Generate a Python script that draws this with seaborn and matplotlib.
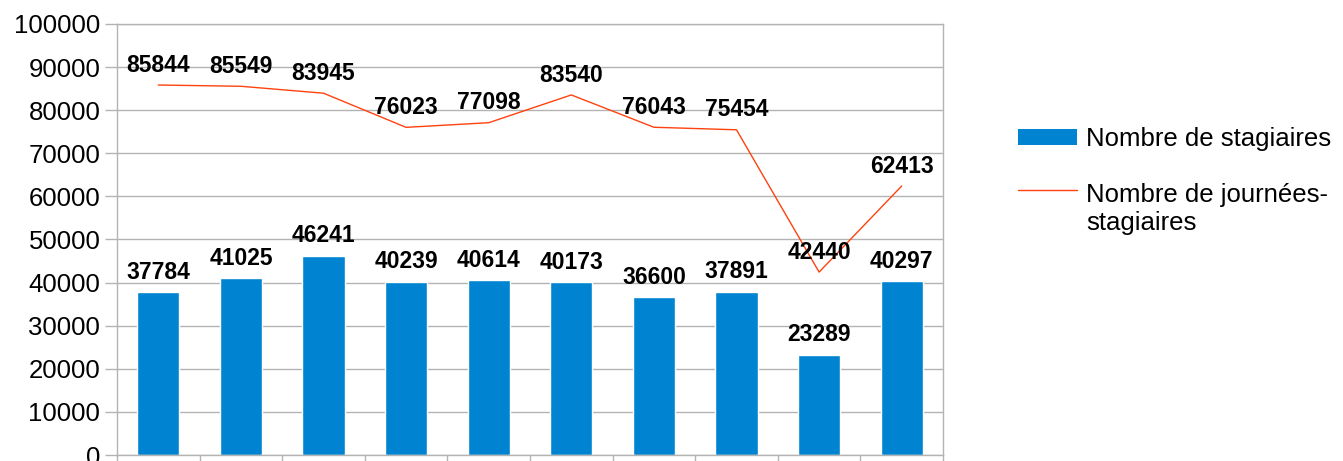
import matplotlib
matplotlib.use("Agg")
import matplotlib.pyplot as plt
from matplotlib.patches import Patch
from matplotlib.lines import Line2D
from matplotlib.legend_handler import HandlerLine2D
import seaborn as sns
import pandas as pd

categories = ["1", "2", "3", "4", "5", "6", "7", "8", "9", "10"]
stagiaires = [37784, 41025, 46241, 40239, 40614, 40173, 36600, 37891, 23289, 40297]
journees = [85844, 85549, 83945, 76023, 77098, 83540, 76043, 75454, 42440, 62413]
series_names = ["Nombre de stagiaires", "Nombre de journées-\nstagiaires"]

sns.set_theme(style="white")
plt.rcParams["font.family"] = ["Liberation Sans", "DejaVu Sans"]
plt.rcParams["text.color"] = "black"
plt.rcParams["xtick.labelcolor"] = "black"
plt.rcParams["ytick.labelcolor"] = "black"

bar_color = "#0084d1"
line_color = "#ff420e"
grid_color = "#b3b3b3"

df = pd.DataFrame({"cat": categories, "stag": stagiaires, "jour": journees})

fig = plt.figure(figsize=(13.43, 4.61), dpi=100)
ax = fig.add_axes([117 / 1343, 6 / 461, (943 - 117) / 1343, (455 - 24) / 461])

sns.barplot(data=df, x="cat", y="stag", color=bar_color, saturation=1,
            width=0.51, ax=ax, zorder=2)
ax.plot(range(len(categories)), journees, color=line_color, lw=1.0, zorder=3)

ax.set_ylim(0, 100000)
ax.set_xlim(-0.5, len(categories) - 0.5)
ax.set_yticks(range(0, 100001, 10000))
ax.set_yticklabels([str(v) for v in range(0, 100001, 10000)], fontsize=18.5, color="black")
ax.set_xticks([i - 0.5 for i in range(len(categories) + 1)])
ax.set_xticklabels([])
ax.tick_params(axis="x", length=6, color=grid_color, width=1, direction="out", bottom=True)
ax.tick_params(axis="y", length=9, color=grid_color, width=1, direction="out", left=True, pad=3)
ax.set_xlabel("")
ax.set_ylabel("")
ax.yaxis.grid(True, color=grid_color, lw=1)
ax.set_axisbelow(True)
for s in ax.spines.values():
    s.set_visible(True)
    s.set_color(grid_color)
    s.set_linewidth(1)

ax.bar_label(ax.containers[0], labels=[str(v) for v in stagiaires],
             padding=6, fontsize=16.5, fontweight="bold", color="black")
for i, v in enumerate(journees):
    ax.annotate(str(v), (i, v), xytext=(0, 6), textcoords="offset points",
                ha="center", va="bottom", fontsize=16.5, fontweight="bold", color="black",
                zorder=4)


class RaisedLineHandler(HandlerLine2D):
    def create_artists(self, legend, orig_handle, xdescent, ydescent,
                       width, height, fontsize, trans):
        arts = super().create_artists(legend, orig_handle, xdescent, ydescent,
                                      width, height, fontsize, trans)
        for a in arts:
            a.set_ydata([y + 14 for y in a.get_ydata()])
        return arts


line_handle = Line2D([], [], color=line_color, lw=1.0)
handles = [Patch(facecolor=bar_color, edgecolor="none"), line_handle]
leg = fig.legend(handles=handles, labels=series_names, loc="upper left",
                 bbox_to_anchor=(1018 / 1343, 1 - 127 / 461), frameon=False,
                 fontsize=18.5, handlelength=2.3, handleheight=0.6, labelspacing=1.25,
                 handletextpad=0.35, borderaxespad=0, borderpad=0,
                 handler_map={line_handle: RaisedLineHandler()})
for t in leg.get_texts():
    t.set_color("black")

fig.savefig("out.png", dpi=100)
